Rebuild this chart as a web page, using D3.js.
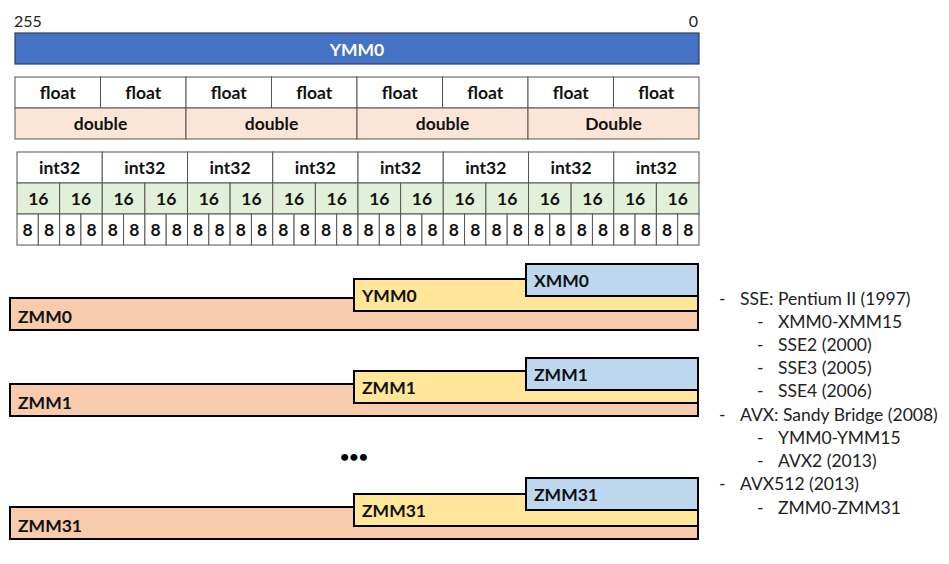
<!DOCTYPE html>
<html>
<head>
<meta charset="utf-8">
<script src="https://cdn.jsdelivr.net/npm/d3@7"></script>
<style>
  body { margin: 0; background: #fff; }
  text { font-family: Lato, "Open Sans", sans-serif; }
</style>
</head>
<body>
<script>
// data
var bitEnds = ["255", "0"];
var topReg = "YMM0";
var floatLabels = ["float", "float", "float", "float", "float", "float", "float", "float"];
var doubleLabels = ["double", "double", "double", "Double"];
var int32Labels = ["int32", "int32", "int32", "int32", "int32", "int32", "int32", "int32"];
var int16Labels = ["16", "16", "16", "16", "16", "16", "16", "16",
                   "16", "16", "16", "16", "16", "16", "16", "16"];
var int8Labels = ["8", "8", "8", "8", "8", "8", "8", "8", "8", "8", "8", "8", "8", "8", "8", "8",
                  "8", "8", "8", "8", "8", "8", "8", "8", "8", "8", "8", "8", "8", "8", "8", "8"];
var regIndex = ["0", "1", "31"];
var regKinds = ["ZMM", "YMM", "XMM"];
var regBits = [512, 256, 128];
var featureText = ["SSE: Pentium II (1997)", "XMM0-XMM15", "SSE2 (2000)", "SSE3 (2005)", "SSE4 (2006)",
                   "AVX: Sandy Bridge (2008)", "YMM0-YMM15", "AVX2 (2013)", "AVX512 (2013)", "ZMM0-ZMM31"];
var featureLevel = [0, 1, 1, 1, 1, 0, 1, 1, 0, 1];

var width = 949, height = 564;
var svg = d3.select("body").append("svg")
    .attr("width", width)
    .attr("height", height);

// scales
var xTop = d3.scaleLinear().domain([256, 0]).range([15, 699]);
var xInt = d3.scaleLinear().domain([256, 0]).range([17, 699]);
var xReg = d3.scaleLinear().domain([512, 0]).range([10, 698]);

var regColor = d3.scaleOrdinal().domain(regKinds).range(["#F8CBAD", "#FFE699", "#BDD7EE"]);

// bit numbers
svg.selectAll(".bitend")
    .data(bitEnds)
  .enter().append("text")
    .attr("x", function(d, i) { return i == 0 ? xTop(256) - 1 : xTop(0) - 1; })
    .attr("y", 27)
    .attr("text-anchor", function(d, i) { return i == 0 ? "start" : "end"; })
    .style("font-size", "16px")
    .style("fill", "#222")
    .text(function(d) { return d; });

// big YMM0 bar
svg.append("rect")
    .attr("x", xTop(256)).attr("y", 33)
    .attr("width", xTop(0) - xTop(256)).attr("height", 31)
    .style("fill", "#4472C4")
    .style("stroke", "#2F3F5F").style("stroke-width", 1.2);
svg.append("text")
    .attr("x", (xTop(256) + xTop(0)) / 2).attr("y", 49)
    .attr("text-anchor", "middle").attr("dominant-baseline", "central")
    .style("font-size", "17.5px").style("font-weight", "bold").style("fill", "#fff")
    .text(topReg);

// lane rows
function laneRow(labels, x, y, h, fill, fontSize) {
  var w = 256 / labels.length;
  var g = svg.append("g");
  g.selectAll("rect")
      .data(labels)
    .enter().append("rect")
      .attr("x", function(d, i) { return x(256 - i * w); })
      .attr("y", y)
      .attr("width", function(d, i) { return x(256 - (i + 1) * w) - x(256 - i * w); })
      .attr("height", h)
      .style("fill", fill)
      .style("stroke", "#555")
      .style("stroke-width", 1);
  g.selectAll("text")
      .data(labels)
    .enter().append("text")
      .attr("x", function(d, i) { return x(256 - (i + 0.5) * w); })
      .attr("y", y + h / 2)
      .attr("text-anchor", "middle").attr("dominant-baseline", "central")
      .style("font-size", fontSize + "px").style("font-weight", "bold").style("fill", "#111")
      .text(function(d) { return d; });
}

laneRow(floatLabels, xTop, 77, 31, "#fff", 17.5);
laneRow(doubleLabels, xTop, 108, 31, "#FBE5D6", 17.5);
laneRow(int32Labels, xInt, 152, 31, "#fff", 17.5);
laneRow(int16Labels, xInt, 183, 31, "#E2F0D9", 17.5);
laneRow(int8Labels, xInt, 214, 31, "#fff", 17.5);

// register groups (top edge of each box, per group)
var boxTop = {
  XMM: [264, 358, 478],
  YMM: [279, 371, 494],
  ZMM: [298, 384, 507]
};
var boxH = 32;

regIndex.forEach(function(idx, gi) {
  var g = svg.append("g");
  regKinds.forEach(function(kind, ki) {
    var y0 = boxTop[kind][gi];
    var label = (idx == "0" ? kind : "ZMM") + idx;
    g.append("rect")
        .attr("x", xReg(regBits[ki])).attr("y", y0)
        .attr("width", xReg(0) - xReg(regBits[ki])).attr("height", boxH)
        .style("fill", regColor(kind))
        .style("stroke", "#000").style("stroke-width", 2);
    g.append("text")
        .attr("x", xReg(regBits[ki]) + 8)
        .attr("y", y0 + boxH / 2 + (kind == "ZMM" ? 2 : 0))
        .attr("dominant-baseline", "central")
        .style("font-size", "17.5px").style("font-weight", "bold").style("fill", "#111")
        .text(label);
  });
});

// ellipsis between groups
svg.append("text")
    .attr("x", xReg(256)).attr("y", 455)
    .attr("text-anchor", "middle").attr("dominant-baseline", "central")
    .style("font-size", "16px").style("font-weight", "bold")
    .text("\u2022\u2022\u2022");

// feature list
var yFeat = d3.scaleLinear().domain([0, featureText.length - 1]).range([298, 507]);
var feat = svg.selectAll(".feat")
    .data(featureText)
  .enter().append("g")
    .attr("transform", function(d, i) {
      return "translate(" + (featureLevel[i] ? 757 : 719) + "," + yFeat(i) + ")";
    });
feat.append("text")
    .attr("dominant-baseline", "central")
    .style("font-size", "17.5px").style("fill", "#222")
    .text("-");
feat.append("text")
    .attr("x", 21)
    .attr("dominant-baseline", "central")
    .style("font-size", "17.5px").style("fill", "#222")
    .text(function(d) { return d; });
</script>
</body>
</html>
